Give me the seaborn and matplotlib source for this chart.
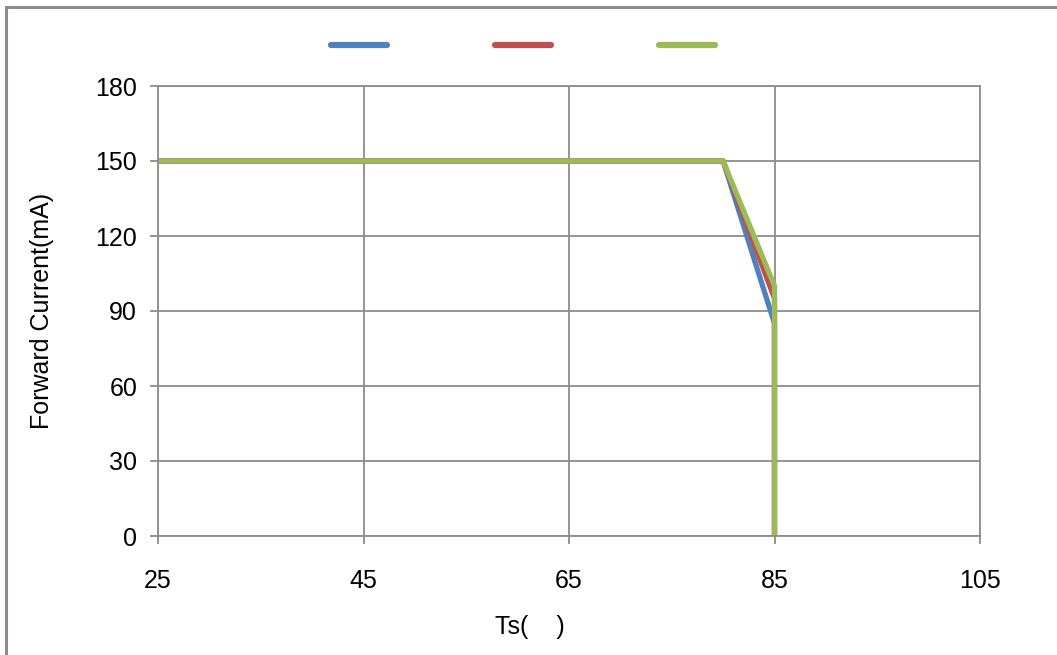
import pandas as pd
import seaborn as sns
import matplotlib.pyplot as plt
from matplotlib.patches import Rectangle

# datos
ts = [25, 80, 85, 85]
blue_ma = [150, 150, 85, 0]
red_ma = [150, 150, 95, 0]
green_ma = [150, 150, 100, 0]
colors = ["#4F81BD", "#C0504D", "#9BBB59"]
x_ticks = [25, 45, 65, 85, 105]
y_ticks = [0, 30, 60, 90, 120, 150, 180]

sns.set_style("white")
plt.rcParams['font.family'] = ['Liberation Sans', 'DejaVu Sans']
plt.rcParams['text.color'] = 'black'
plt.rcParams['axes.labelcolor'] = 'black'

fig = plt.figure(figsize=(10.57, 6.55), dpi=100)
ax = fig.add_axes([158 / 1057, 1 - 536 / 655, (980 - 158) / 1057, (536 - 86) / 655])

handles = []
for vals, c in zip([blue_ma, red_ma, green_ma], colors):
    df = pd.DataFrame({"Ts": ts, "mA": vals})
    sns.lineplot(data=df, x="Ts", y="mA", estimator=None, sort=False,
                 color=c, linewidth=3.8, ax=ax, solid_capstyle="butt")
    handles.append(ax.lines[-1])

ax.set_xlim(25, 105)
ax.set_ylim(0, 180)
ax.set_xticks(x_ticks)
ax.set_yticks(y_ticks)
ax.grid(True, color="#8c8c8c", linewidth=1.3)
ax.set_axisbelow(True)
for s in ax.spines.values():
    s.set_color("#8c8c8c")
    s.set_linewidth(1.3)
ax.tick_params(axis="both", labelsize=18, colors="#8c8c8c", labelcolor="black",
               length=6, width=1.3, direction="out", left=True, bottom=True)
ax.tick_params(axis="x", pad=18)
ax.tick_params(axis="y", pad=9)

ax.set_xlabel("Ts(    )", fontsize=18, color="black")
ax.xaxis.set_label_coords((530 - 158) / 822, -(627 - 536) / 450, transform=ax.transAxes)
ax.xaxis.label.set_verticalalignment("center")
ax.set_ylabel("Forward Current(mA)", fontsize=18, labelpad=30, color="black")

leg = fig.legend(handles, ["", "", ""], loc="center", ncol=3,
                 bbox_to_anchor=(523 / 1057, 1 - 47 / 655), frameon=False,
                 fontsize=18, handlelength=2.24, handletextpad=0,
                 columnspacing=4.32)
for h in leg.legend_handles:
    h.set_linewidth(4.5)
    h.set_solid_capstyle("round")

# marco exterior
fig.patches.append(Rectangle((6 / 1057, -0.1), 1.2, 1.1 - 7 / 655, transform=fig.transFigure,
                             fill=False, edgecolor="#8c8c8c", linewidth=2.2))

fig.savefig("out.png", dpi=100)
